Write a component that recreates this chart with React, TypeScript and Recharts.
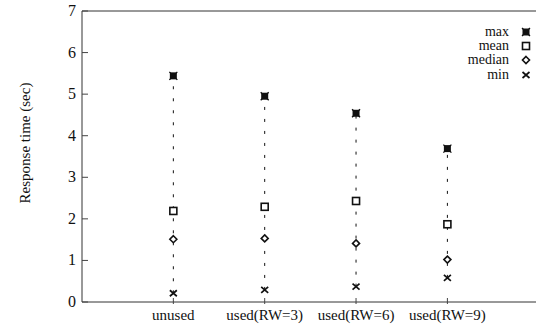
import React from 'react';
import { ComposedChart, Scatter, XAxis, YAxis, ReferenceLine } from 'recharts';

const categories = ['unused', 'used(RW=3)', 'used(RW=6)', 'used(RW=9)'];
const maxValues = [5.44, 4.95, 4.54, 3.69];
const meanValues = [2.19, 2.29, 2.43, 1.87];
const medianValues = [1.51, 1.53, 1.41, 1.02];
const minValues = [0.21, 0.29, 0.37, 0.58];
const yTicks = [0, 1, 2, 3, 4, 5, 6, 7];
const seriesNames = ['max', 'mean', 'median', 'min'];

const data = categories.map((c, i) => ({
  x: i + 1,
  name: c,
  max: maxValues[i],
  mean: meanValues[i],
  median: medianValues[i],
  min: minValues[i],
}));

const FONT = '"Liberation Serif", "DejaVu Serif", serif';
const INK = '#111';

const MaxMark = ({ cx, cy }: any) => (
  <g>
    <rect x={cx - 3.5} y={cy - 3.5} width={7} height={7} fill={INK} />
    <path d={`M${cx - 4},${cy - 4}L${cx + 4},${cy + 4}M${cx - 4},${cy + 4}L${cx + 4},${cy - 4}`} stroke={INK} strokeWidth={1.3} />
  </g>
);
const MeanMark = ({ cx, cy }: any) => (
  <rect x={cx - 3.5} y={cy - 3.5} width={7} height={7} fill="#fff" stroke={INK} strokeWidth={1.6} />
);
const MedianMark = ({ cx, cy }: any) => (
  <path d={`M${cx},${cy - 3.5}L${cx + 3.5},${cy}L${cx},${cy + 3.5}L${cx - 3.5},${cy}Z`} fill="#fff" stroke={INK} strokeWidth={1.6} />
);
const MinMark = ({ cx, cy }: any) => (
  <path d={`M${cx - 3.5},${cy - 3}L${cx + 3.5},${cy + 3}M${cx - 3.5},${cy + 3}L${cx + 3.5},${cy - 3}`} stroke={INK} strokeWidth={1.7} />
);

const marks: Record<string, any> = { max: MaxMark, mean: MeanMark, median: MedianMark, min: MinMark };

const YTick = ({ x, y, payload }: any) => (
  <g>
    <line x1={x + 6} x2={x + 12} y1={y} y2={y} stroke="#444" strokeWidth={1} />
    <text x={x} y={y} dy={5} textAnchor="end" fontFamily={FONT} fontSize={16} fill={INK}>{payload.value}</text>
  </g>
);

const XTick = ({ x, y, payload }: any) => {
  const label = categories[payload.value - 1];
  return (
    <g>
      <line x1={x} x2={x} y1={y} y2={y - 6} stroke="#444" strokeWidth={1} />
      <text x={x} y={y} dy={16} textAnchor="middle" fontFamily={FONT} fontSize={15} fill={INK}>{label}</text>
    </g>
  );
};

const LegendBox = () => (
  <div style={{ position: 'absolute', top: 25, right: 1, width: 140, fontFamily: FONT, fontSize: 14, color: INK }}>
    {seriesNames.map((n) => {
      const M = marks[n];
      return (
        <div key={n} style={{ display: 'flex', alignItems: 'center', justifyContent: 'flex-end', height: 14.2, lineHeight: '14px' }}>
          <span style={{ textAlign: 'right' }}>{n}</span>
          <svg width={18} height={12} style={{ marginLeft: 8 }}>
            <M cx={9} cy={6} />
          </svg>
        </div>
      );
    })}
  </div>
);

export default function App() {
  return (
    <div style={{ position: 'absolute', left: 0, top: 0, width: 536, height: 328, background: '#fff' }}>
      <ComposedChart width={536} height={328} data={data} margin={{ top: 11, right: 0, bottom: 0, left: 0 }}>
        <XAxis
          dataKey="x"
          type="number"
          domain={[0, 4.97]}
          ticks={[1, 2, 3, 4]}
          tick={<XTick />}
          tickLine={false}
          tickSize={0}
          axisLine={{ stroke: '#333', strokeWidth: 1 }}
          allowDataOverflow
          height={26}
        />
        <YAxis
          type="number"
          domain={[0, 7]}
          ticks={yTicks}
          tick={<YTick />}
          tickLine={false}
          tickSize={0}
          tickMargin={6}
          width={82}
          axisLine={{ stroke: '#333', strokeWidth: 1 }}
          label={{
            content: () => (
              <text x={25} y={143} transform="rotate(-90 25 143)" textAnchor="middle" dy={5} fontFamily={FONT} fontSize={15} fill={INK}>
                Response time (sec)
              </text>
            ),
          }}
        />
        <ReferenceLine y={7} stroke="#333" strokeWidth={1} ifOverflow="visible" />
        {categories.map((c, i) => (
          <ReferenceLine
            key={c}
            segment={[{ x: i + 1, y: minValues[i] }, { x: i + 1, y: maxValues[i] }]}
            stroke={INK}
            strokeWidth={1}
            strokeDasharray="3 9"
          />
        ))}
        {seriesNames.map((n) => (
          <Scatter key={n} name={n} dataKey={n} shape={marks[n]} isAnimationActive={false} />
        ))}
      </ComposedChart>
      <LegendBox />
    </div>
  );
}
